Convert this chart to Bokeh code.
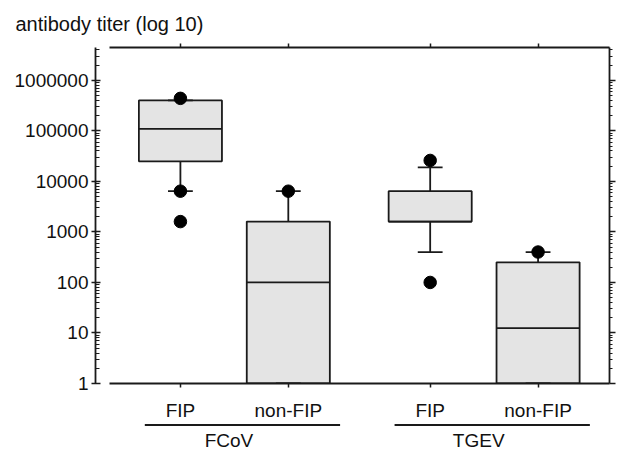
from bokeh.plotting import figure
from bokeh.models import (Range1d, LogAxis, LinearAxis, FixedTicker,
                          CustomJSTickFormatter, ColumnDataSource)
from bokeh.layouts import column
from bokeh.core.properties import value
from bokeh.embed import file_html
from bokeh.resources import INLINE

# ---------------- data ----------------
groups = ["FCoV", "FCoV", "TGEV", "TGEV"]
subgroups = ["FIP", "non-FIP", "FIP", "non-FIP"]
upper = [400000, 6400, 19000, 400]
q3 = [400000, 1600, 6400, 250]
median = [110000, 100, 1600, 12.5]
q1 = [25000, 1, 1600, 1]
lower = [6400, 1, 400, 1]
point_cat = [0, 0, 0, 1, 2, 2, 3]
point_val = [440000, 6400, 1600, 6400, 26000, 100, 400]
y_ticks = [1, 10, 100, 1000, 10000, 100000, 1000000]
y_tick_labels = ["1", "10", "100", "1000", "10000", "100000", "1000000"]
title_text = "antibody titer (log 10)"

# ---------------- layout ----------------
FONT = "Liberation Sans"
INK = "#1a1a1a"
LW = 1.8
GROUP_GAP = 0.315
BOX_W = 0.77
CAP_W = 0.23
group_names = ["FCoV", "TGEV"]
pos = [i + 1 + group_names.index(g) * GROUP_GAP for i, g in enumerate(groups)]
x_start, x_end = 0.213, 4.977
line_start = 0.34
y_end = 10 ** 6.65

W = 616
p = figure(width=W, height=423, x_range=Range1d(x_start, x_end),
           y_range=Range1d(1, y_end), y_axis_type="log",
           output_backend="svg", toolbar_location=None,
           min_border_left=95, min_border_right=7, min_border_top=47,
           min_border_bottom=39)
p.outline_line_color = None
p.grid.visible = False
p.background_fill_color = "white"

p.title.text = title_text
p.title.align = "left"
p.title.offset = -80
p.title.text_font = FONT
p.title.text_font_size = "20px"
p.title.text_font_style = "normal"
p.title.text_color = "#111111"
p.title.standoff = 18

minor = [k * 10 ** d for d in range(0, 7) for k in range(2, 10) if k * 10 ** d <= y_end]
ytick_fmt = CustomJSTickFormatter(args=dict(vals=y_ticks, labs=y_tick_labels), code="""
const i = vals.findIndex(v => Math.abs(Math.log10(v) - Math.log10(tick)) < 1e-6);
return i >= 0 ? labs[i] : '';
""")

ya = p.yaxis[0]
ya.ticker = FixedTicker(ticks=y_ticks, minor_ticks=minor)
ya.formatter = ytick_fmt
ya.bounds = (1, y_end)
ya.axis_line_color = INK
ya.axis_line_width = LW
ya.major_tick_line_color = INK
ya.major_tick_line_width = 1.5
ya.minor_tick_line_color = INK
ya.minor_tick_line_width = 1.2
ya.major_tick_in = 5
ya.major_tick_out = 4
ya.minor_tick_in = 4
ya.minor_tick_out = 0
ya.major_label_standoff = 3
ya.major_label_text_font = FONT
ya.major_label_text_font_size = "19px"
ya.major_label_text_color = "#111111"

ra = LogAxis(ticker=FixedTicker(ticks=y_ticks, minor_ticks=minor),
             formatter=CustomJSTickFormatter(code="return '';"),
             bounds=(1, y_end), axis_line_color=INK, axis_line_width=LW,
             major_tick_line_color=INK, major_tick_line_width=1.5,
             minor_tick_line_color=INK, minor_tick_line_width=1.2,
             major_tick_in=0, major_tick_out=6, minor_tick_in=0, minor_tick_out=3,
             major_label_standoff=0, major_label_text_font_size="1px")
p.add_layout(ra, "right")

xtick_fmt = CustomJSTickFormatter(args=dict(vals=pos, labs=subgroups), code="""
const i = vals.findIndex(v => Math.abs(v - tick) < 1e-6);
return i >= 0 ? labs[i] : '';
""")
xa = p.xaxis[0]
xa.ticker = FixedTicker(ticks=pos, minor_ticks=[])
xa.formatter = xtick_fmt
xa.bounds = (line_start, x_end)
xa.axis_line_color = INK
xa.axis_line_width = LW
xa.major_tick_line_color = INK
xa.major_tick_line_width = 1.5
xa.major_tick_in = 0
xa.major_tick_out = 4
xa.minor_tick_out = 0
xa.major_label_standoff = 12
xa.major_label_text_font = FONT
xa.major_label_text_font_size = "19px"
xa.major_label_text_color = "#111111"

ta = LinearAxis(ticker=FixedTicker(ticks=pos, minor_ticks=[]),
                formatter=CustomJSTickFormatter(code="return '';"),
                bounds=(line_start, x_end), axis_line_color=INK, axis_line_width=LW,
                major_tick_line_color=INK, major_tick_line_width=1.5,
                major_tick_in=0, major_tick_out=4, minor_tick_out=0,
                major_label_standoff=0, major_label_text_font_size="1px")
p.add_layout(ta, "above")

src = ColumnDataSource(dict(
    x=pos, q1=q1, q3=q3, med=median, up=upper, lo=lower,
    xl=[v - BOX_W / 2 for v in pos], xr=[v + BOX_W / 2 for v in pos],
    cl=[v - CAP_W / 2 for v in pos], cr=[v + CAP_W / 2 for v in pos]))

p.segment(x0="x", x1="x", y0="q3", y1="up", source=src, line_color=INK, line_width=LW)
p.segment(x0="x", x1="x", y0="q1", y1="lo", source=src, line_color=INK, line_width=LW)
p.vbar(x="x", bottom="q1", top="q3", width=BOX_W, source=src,
       fill_color="#e4e4e4", line_color=INK, line_width=LW)
p.segment(x0="xl", x1="xr", y0="med", y1="med", source=src, line_color=INK, line_width=LW)
p.segment(x0="cl", x1="cr", y0="up", y1="up", source=src, line_color=INK, line_width=LW)
p.segment(x0="cl", x1="cr", y0="lo", y1="lo", source=src, line_color=INK, line_width=LW)
p.scatter(x=[pos[i] for i in point_cat], y=point_val, size=12.5,
          fill_color="black", line_color="black")

# ---------------- group labels strip ----------------
H2 = 27
p2 = figure(width=W, height=H2, x_range=p.x_range, y_range=Range1d(0, H2),
            x_axis_type=None, y_axis_type=None, output_backend="svg",
            toolbar_location=None, min_border_left=95, min_border_right=7,
            min_border_top=0, min_border_bottom=0)
p2.outline_line_color = None
p2.background_fill_color = "white"
g_first = [pos[groups.index(g)] for g in group_names]
g_last = [pos[len(groups) - 1 - groups[::-1].index(g)] for g in group_names]
p2.segment(x0=[a - 0.33 for a in g_first], x1=[b + 0.48 for b in g_last],
           y0=[H2 - 1.5] * 2, y1=[H2 - 1.5] * 2, line_color=INK, line_width=LW)
p2.text(x=[(a + b) / 2 - 0.05 for a, b in zip(g_first, g_last)], y=[10, 10], text=group_names,
        text_font=value(FONT), text_font_size="19px", text_color="#111111",
        text_align="center", text_baseline="middle")

layout = column(p, p2)
open("out.html", "w").write(file_html(layout, INLINE))
